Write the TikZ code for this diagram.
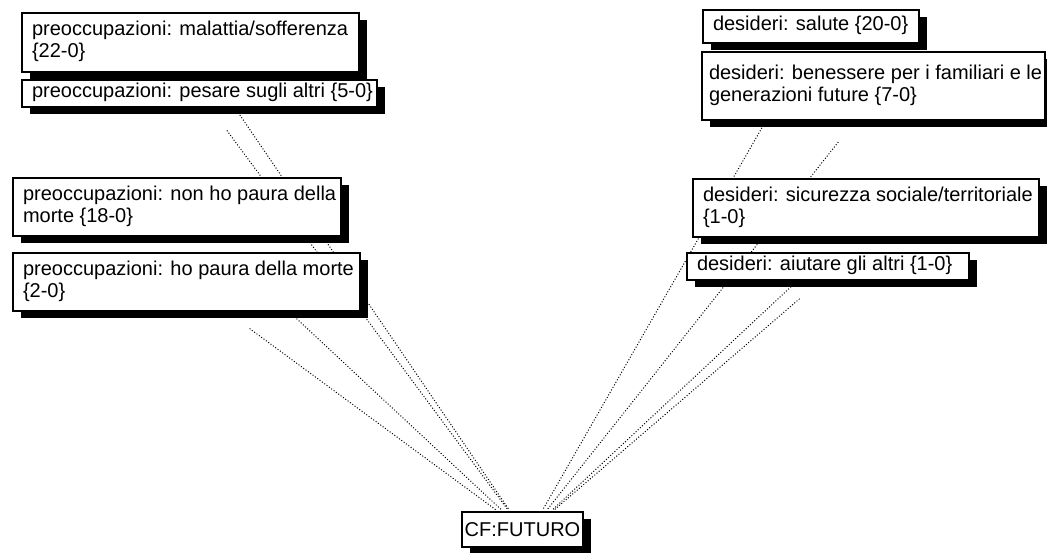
\documentclass[tikz,border=0pt]{standalone}
\usepackage{fontspec}
\setmainfont{Liberation Sans}
\usetikzlibrary{shadows,backgrounds}
\newcommand\bxtext[2]{\makebox[\dimexpr#1pt-8pt\relax][l]{\hspace*{6pt}\begin{tabular}{@{}l@{}}#2\end{tabular}}}
\begin{document}
\begin{tikzpicture}[x=1pt,y=-1pt,
  font=\fontsize{20}{22}\selectfont,
  box/.style={draw=black, line width=1.3pt, fill=white, inner sep=0pt, outer sep=0pt, anchor=north west,
    drop shadow={shadow xshift=8pt, shadow yshift=-7pt, fill=black, opacity=1}},
  link/.style={line width=1pt, black, dash pattern=on 1pt off 1.9pt, shorten <=4pt, shorten >=28pt},
  rlink/.style={link, transform canvas={xshift=9pt}}]
\useasboundingbox (0,0) rectangle (1047,552);
% left column
\node[box, minimum width=337pt, minimum height=59pt] (mal) at (22,13)
  {\bxtext{337}{preoccupazioni: malattia/sofferenza\\\{22-0\}}};
\node[box, minimum width=355pt, minimum height=27pt] (pes) at (22,80)
  {\bxtext{355}{preoccupazioni: pesare sugli altri \{5-0\}}};
\node[box, minimum width=328pt, minimum height=58pt] (non) at (13,178)
  {\bxtext{328}{preoccupazioni: non ho paura della\\morte \{18-0\}}};
\node[box, minimum width=347pt, minimum height=58pt] (hop) at (13,253)
  {\bxtext{347}{preoccupazioni: ho paura della morte\\\{2-0\}}};
% right column
\node[box, minimum width=216pt, minimum height=33pt] (sal) at (703,10)
  {\bxtext{216}{desideri: salute \{20-0\}}};
\node[box, minimum width=343pt, minimum height=68pt] (ben) at (702,52)
  {\makebox[335pt][l]{\hspace*{3pt}\begin{tabular}{@{}l@{}}desideri: benessere per i familiari e le\\generazioni future \{7-0\}\end{tabular}}};
\node[box, minimum width=346pt, minimum height=58pt] (sic) at (693,179)
  {\bxtext{346}{desideri: sicurezza sociale/territoriale\\\{1-0\}}};
\node[box, minimum width=282pt, minimum height=27pt] (aiu) at (687,253)
  {\bxtext{282}{desideri: aiutare gli altri \{1-0\}}};
% centre
\node[box, minimum width=121pt, minimum height=35pt] (cf) at (462,512) {CF:FUTURO};
\begin{pgfonlayer}{background}
\draw[link] (cf) -- (mal);
\draw[link] (cf) -- (pes);
\draw[link] (cf) -- (non);
\draw[link] (cf) -- (hop);
\draw[rlink] (cf) -- (sal);
\draw[rlink] (cf) -- (ben);
\draw[rlink] (cf) -- (sic);
\draw[rlink] (cf) -- (aiu);
\end{pgfonlayer}
\end{tikzpicture}
\end{document}
